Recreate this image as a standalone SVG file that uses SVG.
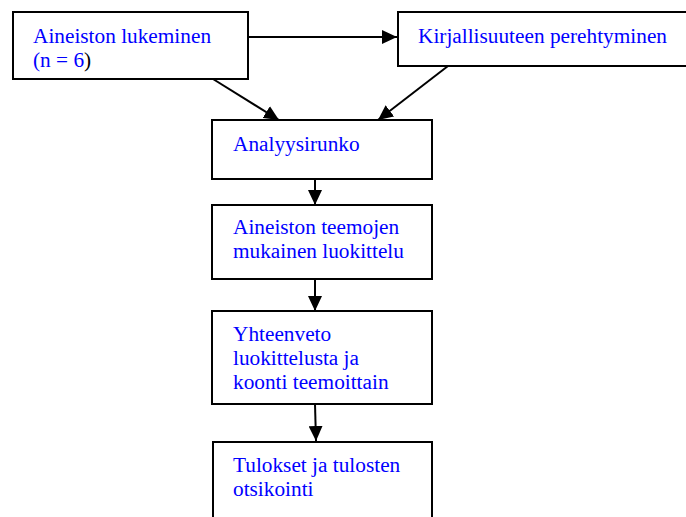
<svg xmlns="http://www.w3.org/2000/svg" width="686" height="517" viewBox="0 0 686 517">
<style>
.box{fill:#fff;stroke:#000;stroke-width:2}
.t{font-family:"Liberation Serif","Times New Roman",serif;font-size:21.3px;fill:#0000ff}
.k{fill:#000}
.c{stroke:#000;stroke-width:2;fill:none;marker-end:url(#ah)}
</style>
<defs>
<marker id="ah" markerUnits="userSpaceOnUse" markerWidth="16" markerHeight="14" refX="15" refY="7" orient="auto">
<path d="M0,0 L15,7 L0,14 Z" fill="#000"/>
</marker>
</defs>
<rect width="686" height="517" fill="#fff"/>
<g id="connectors">
<line class="c" x1="248" y1="37" x2="397" y2="37"/>
<line class="c" x1="213" y1="79" x2="279" y2="120"/>
<line class="c" x1="448" y1="66" x2="378" y2="120"/>
<line class="c" x1="315" y1="179" x2="315" y2="205"/>
<line class="c" x1="315" y1="279" x2="315" y2="311"/>
<line class="c" x1="315" y1="404" x2="316" y2="441"/>
</g>
<g id="n1">
<rect class="box" x="13" y="12" width="235" height="67"/>
<text class="t" x="33" y="43">Aineiston lukeminen</text>
<text class="t" x="33" y="67">(n = 6<tspan class="k">)</tspan></text>
</g>
<g id="n2">
<rect class="box" x="398" y="12" width="290" height="54"/>
<text class="t" x="418" y="43">Kirjallisuuteen perehtyminen</text>
</g>
<g id="n3">
<rect class="box" x="212" y="120" width="220" height="59"/>
<text class="t" x="233" y="151">Analyysirunko</text>
</g>
<g id="n4">
<rect class="box" x="212" y="205" width="220" height="74"/>
<text class="t" x="233" y="234">Aineiston teemojen</text>
<text class="t" x="233" y="258">mukainen luokittelu</text>
</g>
<g id="n5">
<rect class="box" x="212" y="311" width="220" height="93"/>
<text class="t" x="233" y="341">Yhteenveto</text>
<text class="t" x="233" y="365">luokittelusta ja</text>
<text class="t" x="233" y="389">koonti teemoittain</text>
</g>
<g id="n6">
<rect class="box" x="213" y="442" width="219" height="90"/>
<text class="t" x="233" y="472">Tulokset ja tulosten</text>
<text class="t" x="233" y="496">otsikointi</text>
</g>
</svg>
